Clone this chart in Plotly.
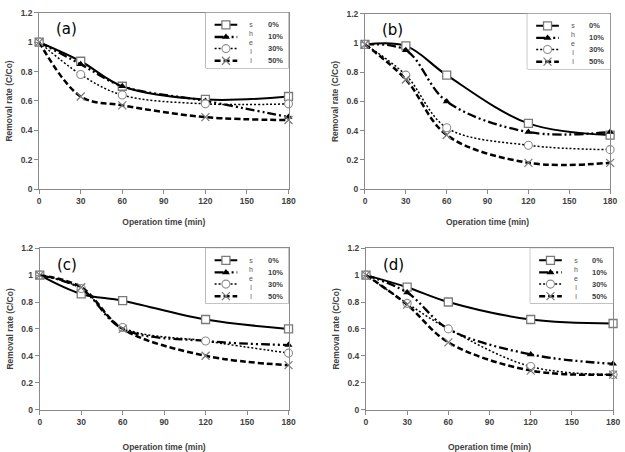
import plotly.graph_objects as go

W, H = 625, 452

# ---------------- data ----------------
TIME_MIN = [0, 30, 60, 120, 180]
SHELL_LEVELS = ["0%", "10%", "30%", "50%"]
PANEL_LABELS = ["(a)", "(b)", "(c)", "(d)"]

# removal rate C/Co per panel and shell content
A_SHELL_0 = [1.00, 0.87, 0.70, 0.61, 0.63]
A_SHELL_10 = [1.00, 0.85, 0.70, 0.60, 0.49]
A_SHELL_30 = [1.00, 0.78, 0.64, 0.58, 0.58]
A_SHELL_50 = [1.00, 0.63, 0.57, 0.49, 0.47]

B_SHELL_0 = [0.99, 0.98, 0.78, 0.45, 0.37]
B_SHELL_10 = [0.99, 0.95, 0.60, 0.39, 0.39]
B_SHELL_30 = [0.99, 0.78, 0.42, 0.30, 0.27]
B_SHELL_50 = [0.99, 0.75, 0.37, 0.18, 0.18]

C_SHELL_0 = [1.00, 0.86, 0.81, 0.67, 0.60]
C_SHELL_10 = [1.00, 0.90, 0.60, 0.51, 0.48]
C_SHELL_30 = [1.00, 0.90, 0.61, 0.51, 0.42]
C_SHELL_50 = [1.00, 0.91, 0.60, 0.40, 0.33]

D_SHELL_0 = [1.00, 0.91, 0.80, 0.67, 0.64]
D_SHELL_10 = [1.00, 0.87, 0.60, 0.41, 0.34]
D_SHELL_30 = [1.00, 0.79, 0.60, 0.32, 0.26]
D_SHELL_50 = [1.00, 0.78, 0.50, 0.29, 0.26]

X_TICKS = [0, 30, 60, 90, 120, 150, 180]
Y_TICKS = [0, 0.2, 0.4, 0.6, 0.8, 1, 1.2]
Y_TICK_LABELS = ["0", "0.2", "0.4", "0.6", "0.8", "1", "1.2"]
X_TITLE = "Operation time (min)"
Y_TITLE = "Removal rate (C/Co)"
LEGEND_TITLE = "shell"

PANEL_DATA = [
    [A_SHELL_0, A_SHELL_10, A_SHELL_30, A_SHELL_50],
    [B_SHELL_0, B_SHELL_10, B_SHELL_30, B_SHELL_50],
    [C_SHELL_0, C_SHELL_10, C_SHELL_30, C_SHELL_50],
    [D_SHELL_0, D_SHELL_10, D_SHELL_30, D_SHELL_50],
]

# ---------------- layout / styles ----------------
FONT = "Liberation Sans, Arial, sans-serif"
AXIS_GRAY = "#8a8a8a"
TEXT_GRAY = "#3f3f3f"

# plot frames in pixels: (left, right, top, bottom)
PANELS_PX = [
    (37.7, 290.7, 8, 190),
    (368.3, 617.0, 9, 190),
    (38.3, 290.7, 251, 417.5),
    (369.3, 620.0, 251, 417.5),
]
X_TITLE_STANDOFF = [13, 13, 19, 19]
LEG_W, LEG_H = 84, 57  # legend box size in px (top-right of each frame)

STYLES = [
    dict(line=dict(color="black", width=2.0, dash="solid"),
         marker=dict(symbol="square", size=8, color="white",
                     line=dict(color="#7a7a7a", width=1.3))),
    dict(line=dict(color="black", width=2.3, dash="9px,3px,2px,3px,2px,3px"),
         marker=dict(symbol="triangle-up", size=7, color="black",
                     line=dict(color="black", width=0))),
    dict(line=dict(color="black", width=1.5, dash="2px,2px"),
         marker=dict(symbol="circle", size=8, color="white",
                     line=dict(color="#8c8c8c", width=1.1))),
    dict(line=dict(color="black", width=2.5, dash="6px,3px"),
         marker=dict(symbol="x-thin", size=8, color="#7a7a7a",
                     line=dict(color="#7a7a7a", width=1.2))),
]

# legend key geometry inside the legend box (px from box's top-left)
KEY_X = [9, 20.5, 32]
KEY_ROWS = [12.5, 25, 37, 49.5]
LETTER_X = 46
LABEL_X = 61

fig = go.Figure()
layout = dict(
    width=W, height=H,
    margin=dict(l=0, r=0, t=0, b=0),
    paper_bgcolor="white", plot_bgcolor="white",
    showlegend=False,
    annotations=[], shapes=[],
)


def xdom(a, b):
    return [a / W, b / W]


def ydom(top, bottom):
    return [1 - bottom / H, 1 - top / H]


for p, (left, right, top, bottom) in enumerate(PANELS_PX):
    n = p + 1
    sx = "" if n == 1 else str(n)
    xa, ya = f"x{sx}", f"y{sx}"

    for s, values in enumerate(PANEL_DATA[p]):
        st = STYLES[s]
        fig.add_trace(go.Scatter(
            x=TIME_MIN, y=values, mode="lines+markers",
            name=SHELL_LEVELS[s], xaxis=xa, yaxis=ya,
            line=dict(shape="spline", smoothing=1.0, **st["line"]),
            marker=st["marker"], cliponaxis=False,
        ))

    axis_common = dict(
        showline=True, linecolor=AXIS_GRAY, linewidth=1, mirror=True,
        ticks="outside", ticklen=4, tickcolor=AXIS_GRAY, tickwidth=1,
        showgrid=False, zeroline=False, fixedrange=True,
        tickfont=dict(family=FONT, size=8.5, color=TEXT_GRAY, weight="bold"),
    )
    layout[f"xaxis{sx}"] = dict(
        axis_common, domain=xdom(left, right), anchor=ya,
        range=[0, 180], tickmode="array", tickvals=X_TICKS,
        title=dict(text=X_TITLE, standoff=X_TITLE_STANDOFF[p],
                   font=dict(family=FONT, size=8.5, color=TEXT_GRAY, weight="bold")),
    )
    layout[f"yaxis{sx}"] = dict(
        axis_common, domain=ydom(top, bottom), anchor=xa,
        range=[0, 1.2], tickmode="array", tickvals=Y_TICKS, ticktext=Y_TICK_LABELS,
        title=dict(text=Y_TITLE, standoff=6,
                   font=dict(family=FONT, size=8.5, color=TEXT_GRAY, weight="bold")),
    )

    # panel label
    layout["annotations"].append(dict(
        xref=xa, yref=f"{ya} domain", x=20, y=1 - 17 / (bottom - top),
        text=PANEL_LABELS[p], showarrow=False, xanchor="center", yanchor="middle",
        font=dict(family="DejaVu Sans, sans-serif", size=15, color="black"),
    ))

    # ---- legend drawn in a small auxiliary subplot (pixel units) ----
    m = n + 4
    lx, ly = f"x{m}", f"y{m}"
    layout[f"xaxis{m}"] = dict(domain=xdom(right - LEG_W, right), range=[0, LEG_W],
                               visible=False, fixedrange=True, anchor=ly)
    layout[f"yaxis{m}"] = dict(domain=ydom(top, top + LEG_H), range=[LEG_H, 0],
                               visible=False, fixedrange=True, anchor=lx)
    layout["shapes"].append(dict(
        type="rect", xref=f"{lx} domain", yref=f"{ly} domain",
        x0=0, x1=1, y0=0, y1=1, layer="below",
        line=dict(color=AXIS_GRAY, width=1), fillcolor="white",
    ))
    for s, label in enumerate(SHELL_LEVELS):
        st = STYLES[s]
        fig.add_trace(go.Scatter(
            x=KEY_X, y=[KEY_ROWS[s]] * 3, mode="lines+markers",
            xaxis=lx, yaxis=ly, hoverinfo="skip", cliponaxis=False,
            line=st["line"],
            marker=dict(st["marker"], opacity=[0, 1, 0]),
        ))
        layout["annotations"].append(dict(
            xref=lx, yref=ly, x=LABEL_X, y=KEY_ROWS[s], text=label,
            showarrow=False, xanchor="left", yanchor="middle",
            font=dict(family=FONT, size=7.5, color=TEXT_GRAY, weight="bold"),
        ))
    layout["annotations"].append(dict(
        xref=lx, yref=ly, x=LETTER_X, y=31, text="<br>".join(LEGEND_TITLE),
        showarrow=False, xanchor="center", yanchor="middle",
        font=dict(family=FONT, size=7, color="#555555"),
    ))

fig.update_layout(**layout)
fig.write_html("out.html")
